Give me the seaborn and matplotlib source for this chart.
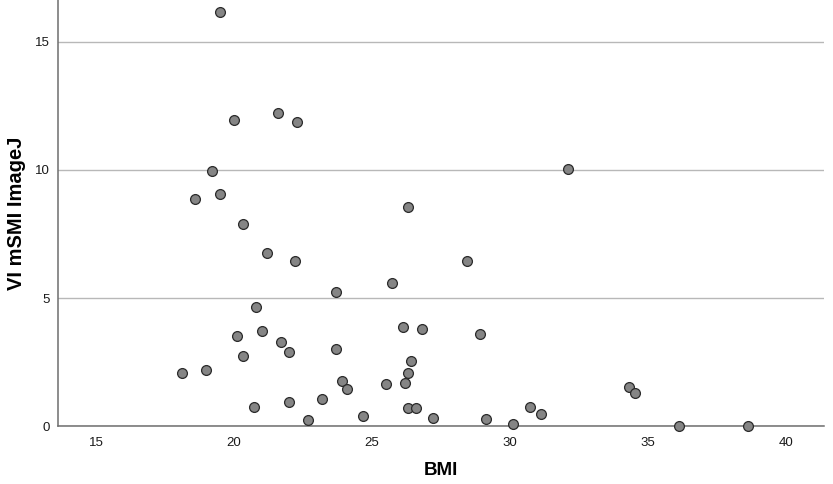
import matplotlib
matplotlib.use("Agg")
import matplotlib.pyplot as plt
import seaborn as sns
import pandas as pd

bmi = [19.50, 20.01, 21.60, 22.30, 19.20, 32.09, 18.60, 19.50, 26.31, 20.31,
       21.20, 22.21, 28.43, 23.71, 25.71, 20.79, 20.10, 21.01, 26.11, 26.82,
       28.92, 21.71, 20.31, 22.00, 23.71, 26.42, 18.10, 19.00, 26.31, 23.90,
       24.11, 25.51, 26.21, 34.33, 34.53, 23.20, 22.00, 20.71, 26.31, 26.61,
       30.72, 31.12, 27.21, 24.69, 22.69, 29.13, 30.12, 36.13, 38.63]
vi = [16.16, 11.94, 12.21, 11.89, 9.95, 10.04, 8.88, 9.06, 8.57, 7.89,
      6.77, 6.46, 6.43, 5.25, 5.60, 4.66, 3.52, 3.72, 3.85, 3.80,
      3.58, 3.29, 2.75, 2.89, 3.00, 2.54, 2.07, 2.19, 2.06, 1.74,
      1.43, 1.63, 1.67, 1.52, 1.29, 1.05, 0.95, 0.75, 0.70, 0.70,
      0.73, 0.48, 0.32, 0.39, 0.23, 0.27, 0.09, 0.00, 0.00]
x_ticks = [15, 20, 25, 30, 35, 40]
y_ticks = [0, 5, 10, 15]

sns.set_style("white")
plt.rcParams['font.family'] = ['Liberation Sans', 'DejaVu Sans']

df = pd.DataFrame({"BMI": bmi, "VI mSMI ImageJ": vi})

fig = plt.figure(figsize=(8.33, 4.84), dpi=100)
ax = fig.add_axes([0.0696, 0.1198, 0.9196, 0.8802])
ax.set_axisbelow(True)
ax.yaxis.grid(True, color="#b8b8b8", linewidth=1.0)
ax.xaxis.grid(False)

sns.scatterplot(data=df, x="BMI", y="VI mSMI ImageJ", ax=ax, s=50,
                color="#858585", edgecolor="#2a2a2a", linewidth=0.9,
                clip_on=False, zorder=3)

ax.set_xlim(13.62, 41.38)
ax.set_ylim(0, 16.64)
ax.set_xticks(x_ticks)
ax.set_yticks(y_ticks)
ax.tick_params(axis="both", length=0, labelsize=9.5, colors="#1a1a1a")
ax.tick_params(axis="x", pad=8)
ax.tick_params(axis="y", pad=6)

for side in ["top", "right"]:
    ax.spines[side].set_visible(False)
for side in ["left", "bottom"]:
    ax.spines[side].set_color("#6e6e6e")
    ax.spines[side].set_linewidth(1.1)

ax.set_xlabel("BMI", fontsize=13.5, fontweight="bold", labelpad=9, color="black")
ax.set_ylabel("VI mSMI ImageJ", fontsize=14.5, fontweight="bold", labelpad=6, color="black")

fig.savefig("out.png", dpi=100)
